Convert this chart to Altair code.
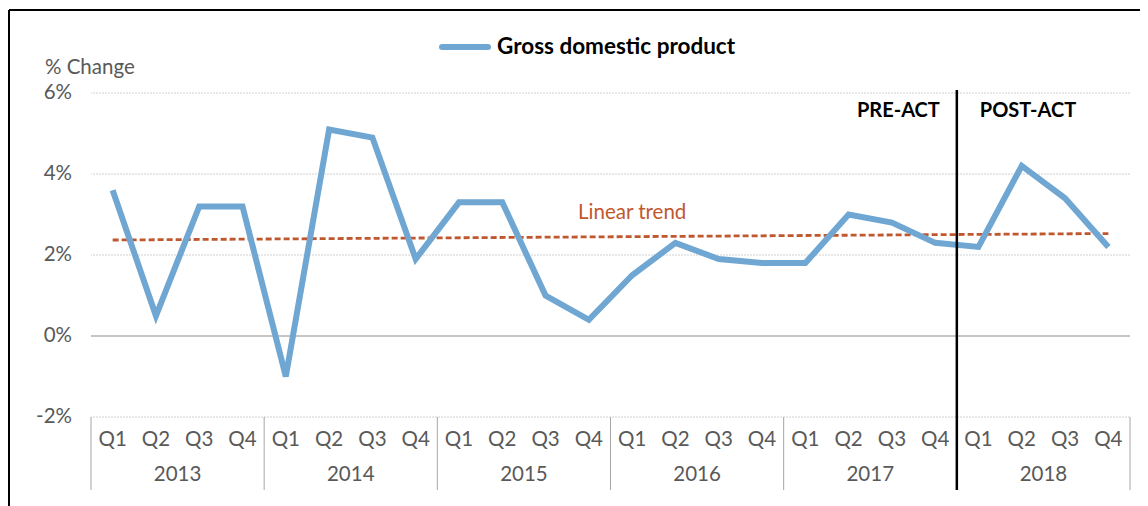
import altair as alt
import pandas as pd
import numpy as np

years = ["2013", "2014", "2015", "2016", "2017", "2018"]
quarters = ["Q1", "Q2", "Q3", "Q4"]
gdp = [3.6, 0.5, 3.2, 3.2,
       -1.0, 5.1, 4.9, 1.9,
       3.3, 3.3, 1.0, 0.4,
       1.5, 2.3, 1.9, 1.8,
       1.8, 3.0, 2.8, 2.3,
       2.2, 4.2, 3.4, 2.2]
y_ticks = [-2, 0, 2, 4, 6]
grid_values = [-2, 2, 4, 6]

FONT = "Lato"
GRAY = "#595959"
BLUE = "#6FA6D2"
TREND = "#C0582F"
FS = 20.5

W, H = 1039, 324

rows = []
for i, v in enumerate(gdp):
    rows.append({"idx": i, "quarter": quarters[i % 4], "year": years[i // 4], "gdp": v})
df = pd.DataFrame(rows)

slope, intercept = np.polyfit(df["idx"], df["gdp"], 1)
tdf = pd.DataFrame({"idx": [0, len(gdp) - 1]})
tdf["fit"] = intercept + slope * tdf["idx"]

xs = alt.Scale(domain=[-0.5, len(gdp) - 0.5], nice=False, zero=False)
ys = alt.Scale(domain=[-2, 6], nice=False, zero=False)


def X(f):
    return alt.X(f, scale=xs, axis=None)


def Y(f):
    return alt.Y(f, scale=ys, axis=None)


base = alt.Chart(df)

grid = alt.Chart(pd.DataFrame({"g": grid_values})).mark_rule(
    color="#D0D0D0", strokeDash=[2, 1], strokeWidth=1
).encode(y=Y("g:Q"))

zero = alt.Chart(pd.DataFrame({"z": [0]})).mark_rule(
    color="#8C8C8C", strokeWidth=1.2
).encode(y=Y("z:Q"))

ylab = pd.DataFrame({"yt": y_ticks, "label": [f"{t}%" for t in y_ticks]})
yaxis = alt.Chart(ylab).mark_text(
    align="right", baseline="middle", font=FONT, fontSize=FS, color=GRAY
).encode(y=Y("yt:Q"), x=alt.value(-19), text="label:N")

line = base.mark_line(color=BLUE, strokeWidth=6).encode(x=X("idx:Q"), y=Y("gdp:Q"))

trend = alt.Chart(tdf).mark_line(color=TREND, strokeWidth=2.8, strokeDash=[6, 3]).encode(
    x=X("idx:Q"), y=Y("fit:Q")
)

trend_label = alt.Chart(pd.DataFrame({"tl": ["Linear trend"], "tx": [12], "ty": [3.04]})).mark_text(
    font=FONT, fontSize=FS, color=TREND, baseline="middle"
).encode(x=X("tx:Q"), y=Y("ty:Q"), text="tl:N")

q_labels = base.mark_text(font=FONT, fontSize=FS, color=GRAY, baseline="middle").encode(
    x=X("idx:Q"), y=alt.value(347), text="quarter:N"
)
ydf = pd.DataFrame({"year": years, "mid": [i * 4 + 1.5 for i in range(len(years))]})
y_labels = alt.Chart(ydf).mark_text(font=FONT, fontSize=FS, color=GRAY, baseline="middle").encode(
    x=X("mid:Q"), y=alt.value(382), text="year:N"
)
sdf = pd.DataFrame({"s": [i * 4 - 0.5 for i in range(len(years) + 1)]})
seps = alt.Chart(sdf).mark_rule(color="#A6A6A6", strokeWidth=1).encode(
    x=X("s:Q"), y=alt.value(H), y2=alt.value(397)
)

adf = pd.DataFrame({"a": [19.5], "pre": ["PRE-ACT"], "post": ["POST-ACT"]})
act = alt.Chart(adf).mark_rule(color="black", strokeWidth=2.5).encode(
    x=X("a:Q"), y=alt.value(-3), y2=alt.value(397)
)
pre = alt.Chart(adf).mark_text(
    font=FONT, fontSize=20, fontWeight="bold", color="black", align="right", baseline="middle", dx=-17
).encode(x=X("a:Q"), y=alt.value(18), text="pre:N")
post = alt.Chart(adf).mark_text(
    font=FONT, fontSize=20, fontWeight="bold", color="black", align="left", baseline="middle", dx=23
).encode(x=X("a:Q"), y=alt.value(18), text="post:N")

misc = pd.DataFrame({"legend": ["Gross domestic product"], "ytitle": ["% Change"]})
leg_line = alt.Chart(misc).mark_rule(color=BLUE, strokeWidth=6, strokeCap="round").encode(
    x=alt.value(351), x2=alt.value(397), y=alt.value(-46)
)
leg_text = alt.Chart(misc).mark_text(
    font=FONT, fontSize=22.5, fontWeight="bold", color="black", align="left", baseline="middle"
).encode(x=alt.value(406), y=alt.value(-46), text="legend:N")
ytitle = alt.Chart(misc).mark_text(
    font=FONT, fontSize=FS, color=GRAY, align="left", baseline="middle"
).encode(x=alt.value(-46), y=alt.value(-25), text="ytitle:N")

frame_top = alt.Chart(misc).mark_rule(color="black", strokeWidth=2).encode(
    x=alt.value(-82), x2=alt.value(1070), y=alt.value(-83)
)
frame_left = alt.Chart(misc).mark_rule(color="black", strokeWidth=2).encode(
    x=alt.value(-82), y=alt.value(-83), y2=alt.value(420)
)

chart = alt.layer(
    grid, zero, seps, yaxis, trend, line, trend_label, q_labels, y_labels,
    act, pre, post, leg_line, leg_text, ytitle, frame_top, frame_left
).properties(
    width=W, height=H,
    padding={"left": 83, "top": 85, "right": 10, "bottom": 89},
    autosize=alt.AutoSizeParams(type="none"),
    background="white",
).configure_view(strokeWidth=0)

chart.save("out.html", embed_options={"renderer": "svg", "actions": False})
